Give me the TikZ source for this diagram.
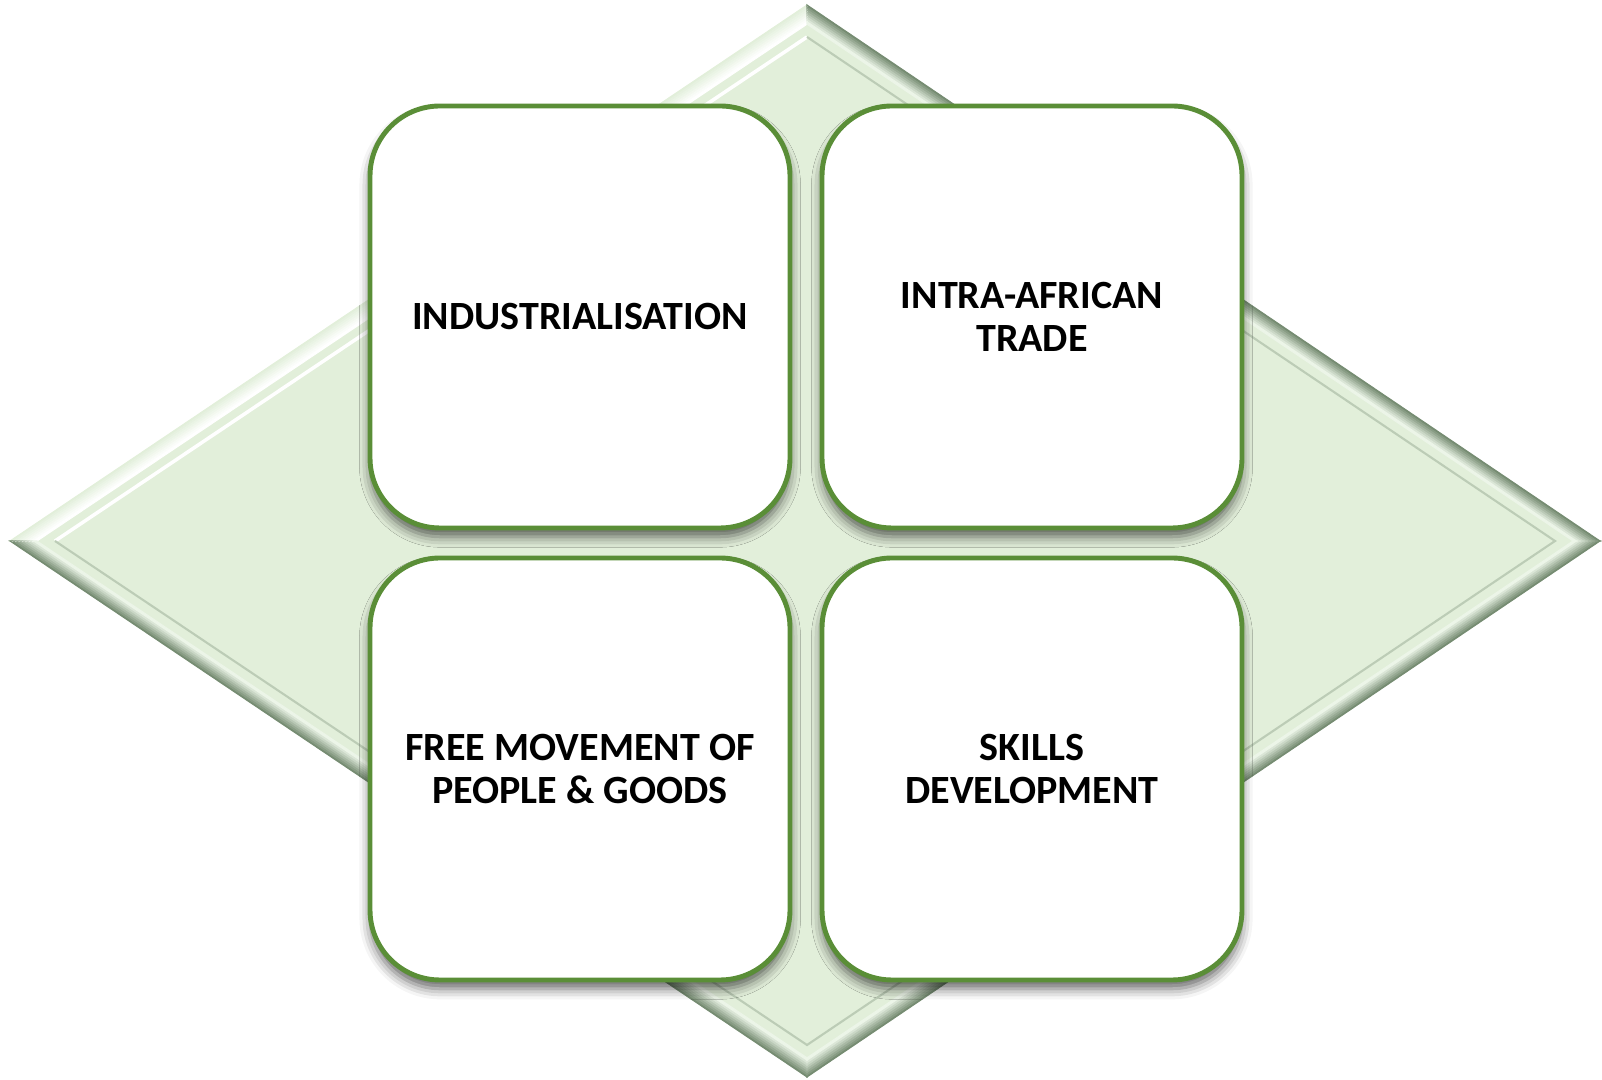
\documentclass[tikz,border=0pt]{standalone}
\usepackage{fontspec}
\setmainfont{Carlito}
\usepackage{xcolor}
\usetikzlibrary{positioning, calc, shadows.blur}

\definecolor{diafill}{RGB}{226,239,218}
\definecolor{bevlight}{RGB}{236,245,232}
\definecolor{bevdark}{RGB}{118,140,114}
\definecolor{boxline}{RGB}{90,142,55}

\tikzset{
  goal/.style={draw=boxline, line width=1.4pt, fill=white, rounded corners=0.7cm,
    minimum width=4.2cm, minimum height=4.22cm, outer sep=0pt, inner sep=0pt,
    align=center, font=\fontsize{11.4}{12.2}\selectfont\bfseries,
    blur shadow={shadow xshift=0pt, shadow yshift=-2.5pt, shadow blur radius=3pt, shadow opacity=60}}
}

\begin{document}
\begin{tikzpicture}
  \useasboundingbox (0,0) rectangle (16.02,10.80);

  \coordinate (oT) at (8.07,10.75);
  \coordinate (oR) at (16.00,5.39);
  \coordinate (oB) at (8.07,0.03);
  \coordinate (oL) at (0.10,5.39);
  \coordinate (iT) at (8.07,10.43);
  \coordinate (iR) at (15.55,5.39);
  \coordinate (iB) at (8.07,0.35);
  \coordinate (iL) at (0.55,5.39);

  \fill[diafill] (oT) -- (oR) -- (oB) -- (oL) -- cycle;

  \foreach \i in {0,...,7} {
    \pgfmathsetmacro\fa{0.6*\i/8}
    \pgfmathsetmacro\fb{0.6*(\i+1)/8}
    \pgfmathtruncatemacro\p{100-100*\i/7}
    \filldraw[line width=0.3pt, draw=diafill!\p!white, fill=diafill!\p!white]
      ($(oL)!\fa!(iL)$) -- ($(oT)!\fa!(iT)$) -- ($(oT)!\fb!(iT)$) -- ($(oL)!\fb!(iL)$) -- cycle;
    \filldraw[line width=0.3pt, draw=bevdark!\p!bevlight, fill=bevdark!\p!bevlight]
      ($(oT)!\fa!(iT)$) -- ($(oR)!\fa!(iR)$) -- ($(oR)!\fb!(iR)$) -- ($(oT)!\fb!(iT)$) -- cycle;
    \filldraw[line width=0.3pt, draw=bevdark!\p!bevlight, fill=bevdark!\p!bevlight]
      ($(oR)!\fa!(iR)$) -- ($(oB)!\fa!(iB)$) -- ($(oB)!\fb!(iB)$) -- ($(oR)!\fb!(iR)$) -- cycle;
    \filldraw[line width=0.3pt, draw=bevdark!\p!bevlight, fill=bevdark!\p!bevlight]
      ($(oB)!\fa!(iB)$) -- ($(oL)!\fa!(iL)$) -- ($(oL)!\fb!(iL)$) -- ($(oB)!\fb!(iB)$) -- cycle;
  }

  \draw[white, line width=1pt] (iL) -- (iT);
  \draw[bevdark!35!diafill, line width=0.6pt] (iT) -- (iR) -- (iB) -- (iL);

  \node[goal] (ind) at (5.80,7.63) {INDUSTRIALISATION};
  \node[goal, right=0.32cm of ind] (trade) {INTRA-AFRICAN\\TRADE};
  \node[goal, below=0.30cm of ind] (move) {FREE MOVEMENT OF\\PEOPLE \& GOODS};
  \node[goal, below=0.30cm of trade] (skill) {SKILLS\\DEVELOPMENT};
\end{tikzpicture}
\end{document}
